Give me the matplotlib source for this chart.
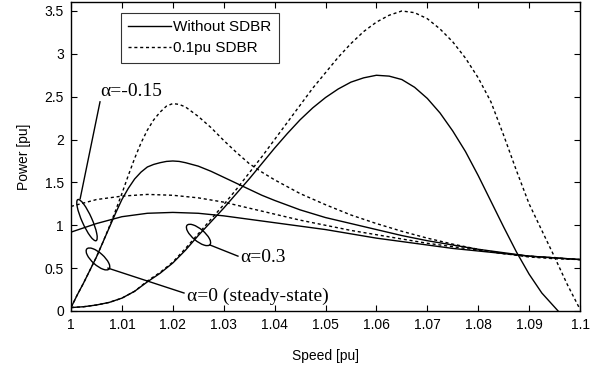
import numpy as np
import matplotlib
matplotlib.use("Agg")
import matplotlib.pyplot as plt
from matplotlib.patches import Ellipse
import matplotlib.transforms as mtransforms

plt.rcParams['font.family'] = ['Liberation Sans', 'DejaVu Sans']

# rotor speed [pu] and electrical power [pu] for each slip-ratio setting
spd_a03 = [1.000, 1.0025, 1.005, 1.0075, 1.010, 1.0125, 1.015, 1.0175, 1.020, 1.0225,
           1.025, 1.0275, 1.030, 1.0325, 1.035, 1.0375, 1.040, 1.0425, 1.045, 1.0475,
           1.050, 1.0525, 1.055, 1.0575, 1.060, 1.0625, 1.065, 1.0675, 1.070, 1.0725,
           1.075, 1.0775, 1.080, 1.0825, 1.085, 1.0875, 1.090, 1.0925, 1.0957]
p_a03 = [0.04, 0.05, 0.07, 0.10, 0.15, 0.23, 0.34, 0.44, 0.56, 0.71,
         0.88, 1.04, 1.20, 1.37, 1.54, 1.72, 1.90, 2.07, 2.23, 2.37,
         2.49, 2.59, 2.67, 2.72, 2.75, 2.74, 2.70, 2.61, 2.48, 2.31,
         2.10, 1.86, 1.58, 1.28, 0.98, 0.69, 0.43, 0.21, 0.0]

spd_a03_sdbr = [1.000, 1.0025, 1.005, 1.0075, 1.010, 1.0125, 1.015, 1.0175, 1.020, 1.0225,
                1.025, 1.0275, 1.030, 1.0325, 1.035, 1.0375, 1.040, 1.0425, 1.045, 1.0475,
                1.050, 1.0525, 1.055, 1.0575, 1.060, 1.0625, 1.065, 1.0675, 1.070, 1.0725,
                1.075, 1.0775, 1.080, 1.0825, 1.085, 1.0875, 1.090, 1.0925, 1.095, 1.0975,
                1.100]
p_a03_sdbr = [0.04, 0.05, 0.07, 0.10, 0.15, 0.23, 0.35, 0.45, 0.57, 0.73,
              0.90, 1.07, 1.24, 1.42, 1.61, 1.80, 2.00, 2.20, 2.40, 2.60,
              2.78, 2.96, 3.12, 3.26, 3.37, 3.45, 3.50, 3.48, 3.41, 3.29,
              3.14, 2.95, 2.72, 2.44, 2.05, 1.64, 1.25, 0.94, 0.63, 0.31,
              0.02]

spd_a0 = [1.000, 1.00125, 1.0025, 1.00375, 1.005, 1.00625, 1.0075, 1.00875, 1.010, 1.01125,
          1.0125, 1.01375, 1.015, 1.01625, 1.0175, 1.01875, 1.020, 1.02125, 1.0225, 1.025,
          1.0275, 1.030, 1.0325, 1.035, 1.0375, 1.040, 1.045, 1.050, 1.055, 1.060,
          1.065, 1.070, 1.075, 1.080, 1.085, 1.090, 1.095, 1.100]
p_a0 = [0.04, 0.19, 0.33, 0.48, 0.63, 0.80, 0.97, 1.14, 1.30, 1.43,
        1.54, 1.62, 1.68, 1.71, 1.73, 1.745, 1.75, 1.745, 1.73, 1.69,
        1.63, 1.56, 1.49, 1.42, 1.35, 1.29, 1.18, 1.09, 1.02, 0.95,
        0.88, 0.82, 0.77, 0.72, 0.68, 0.64, 0.62, 0.60]
p_a0_sdbr = [0.04, 0.19, 0.33, 0.48, 0.63, 0.80, 0.98, 1.17, 1.37, 1.58,
             1.78, 1.96, 2.11, 2.23, 2.32, 2.39, 2.42, 2.41, 2.38, 2.27,
             2.14, 1.99, 1.85, 1.72, 1.62, 1.53, 1.37, 1.24, 1.12, 1.02,
             0.93, 0.85, 0.78, 0.72, 0.67, 0.63, 0.61, 0.60]

spd_am015 = [1.000, 1.005, 1.010, 1.015, 1.020, 1.025, 1.030, 1.035, 1.040, 1.045,
             1.050, 1.055, 1.060, 1.065, 1.070, 1.075, 1.080, 1.085, 1.090, 1.095, 1.100]
p_am015 = [0.92, 1.02, 1.10, 1.14, 1.15, 1.14, 1.11, 1.07, 1.03, 0.99,
           0.95, 0.90, 0.85, 0.81, 0.77, 0.73, 0.70, 0.67, 0.64, 0.62, 0.60]
p_am015_sdbr = [1.22, 1.30, 1.34, 1.36, 1.35, 1.32, 1.27, 1.20, 1.13, 1.06,
                1.00, 0.94, 0.89, 0.84, 0.79, 0.75, 0.71, 0.67, 0.64, 0.62, 0.60]

xticks = [1.00, 1.01, 1.02, 1.03, 1.04, 1.05, 1.06, 1.07, 1.08, 1.09, 1.10]
xticklabels = ['1', '1.01', '1.02', '1.03', '1.04', '1.05', '1.06', '1.07', '1.08', '1.09', '1.1']
yticks = [0, 0.5, 1, 1.5, 2, 2.5, 3, 3.5]
yticklabels = ['0', '0.5', '1', '1.5', '2', '2.5', '3', '3.5']

fig = plt.figure(figsize=(6, 3.68), dpi=100)
ax = fig.add_axes([71 / 600, 1 - 311 / 368, 509 / 600, 308.6 / 368])

dash = (0, (2.2, 2.0))
lw = 1.0
ax.plot(spd_a0, p_a0, color='k', lw=lw, label='Without SDBR')
ax.plot(spd_a0, p_a0_sdbr, color='k', lw=lw, ls=dash, label='0.1pu SDBR')
ax.plot(spd_a03, p_a03, color='k', lw=lw)
ax.plot(spd_a03_sdbr, p_a03_sdbr, color='k', lw=lw, ls=dash)
ax.plot(spd_am015, p_am015, color='k', lw=lw)
ax.plot(spd_am015, p_am015_sdbr, color='k', lw=lw, ls=dash)

ax.set_xlim(1.0, 1.1)
ax.set_ylim(0, 3.6)
ax.set_xticks(xticks)
ax.set_xticklabels(xticklabels)
ax.set_yticks(yticks)
ax.set_yticklabels(yticklabels)
ax.tick_params(direction='in', top=True, right=True, labelsize=10, length=4, width=0.8, pad=5)
for s in ax.spines.values():
    s.set_linewidth(1.0)
ax.set_xlabel('Speed [pu]', fontsize=10, labelpad=12)
ax.set_ylabel('Power [pu]', fontsize=10, labelpad=10)

leg = ax.legend(loc='upper left', bbox_to_anchor=(0.0976, 0.9666), fontsize=11,
                frameon=True, fancybox=False, edgecolor='k', handlelength=2.8,
                handletextpad=0.1, borderpad=0.5, labelspacing=0.45,
                borderaxespad=0)
leg.get_frame().set_linewidth(0.8)


def ring(xc, yc, w, h, ang):
    # ellipse sized in inches, anchored at a data point
    tr = fig.dpi_scale_trans + mtransforms.ScaledTranslation(xc, yc, ax.transData)
    ax.add_patch(Ellipse((0, 0), w, h, angle=ang, transform=tr,
                         fill=False, ec='k', lw=1.0, clip_on=False))


serif = ['Liberation Serif', 'DejaVu Serif']
fs_note = 14

# alpha = -0.15
ring(1.00314, 1.06, 0.45, 0.10, 114)
ax.plot([1.0018, 1.0057], [1.31, 2.44], color='k', lw=1.0)
ax.text(1.0058, 2.56, 'α=-0.15', family=serif, fontsize=fs_note, va='center', ha='left')

# alpha = 0
ring(1.0053, 0.607, 0.30, 0.12, -42)
ax.plot([1.00727, 1.0222], [0.50, 0.21], color='k', lw=1.0)
ax.text(1.0227, 0.175, 'α=0 (steady-state)', family=serif, fontsize=fs_note, va='center', ha='left')

# alpha = 0.3
ring(1.02505, 0.887, 0.30, 0.12, -40)
ax.plot([1.0273, 1.0328], [0.77, 0.64], color='k', lw=1.0)
ax.text(1.0333, 0.62, 'α=0.3', family=serif, fontsize=fs_note, va='center', ha='left')

fig.savefig('out.png', dpi=100)
